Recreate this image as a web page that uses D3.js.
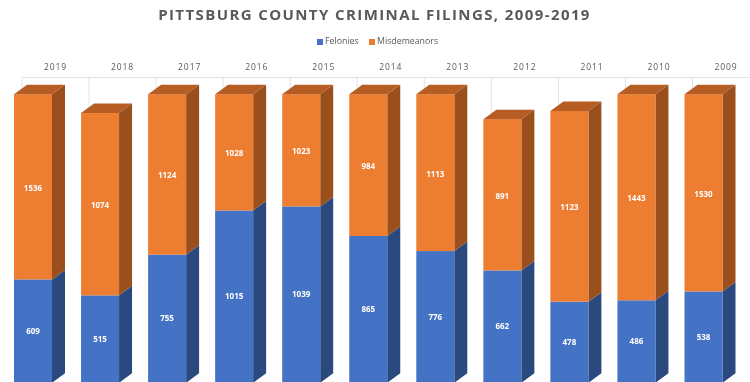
<!DOCTYPE html>
<html><head><meta charset="utf-8">
<script src="https://cdn.jsdelivr.net/npm/d3@7"></script>
<style>html,body{margin:0;padding:0;background:#fff}svg{display:block;filter:blur(0.4px)}text{font-family:"Open Sans","Liberation Sans",sans-serif}</style>
</head><body><svg id="c" width="750" height="382"></svg>
<script>
const years=["2019","2018","2017","2016","2015","2014","2013","2012","2011","2010","2009"];
const felonies=[609,515,755,1015,1039,865,776,662,478,486,538];
const misdemeanors=[1536,1074,1124,1028,1023,984,1113,891,1123,1443,1530];
const seriesNames=["Felonies","Misdemeanors"];
const axisMax=1700;

const W=750,H=382;
const svg=d3.select("#c");
const gridTop=77.5,dx=13,dy=9.5,barW=38,barOff=-8;
const x=d3.scaleBand().domain(years).range([22,22+67.05*11]);
const y=d3.scaleLinear().domain([0,axisMax]).range([382.8,94.2]);
const cols={Felonies:{front:"#4472C4",side:"#2A4A7F",top:"#365C9E"},Misdemeanors:{front:"#ED7D31",side:"#9A4F1C",top:"#B55D22"}};

svg.append("text").attr("x",374.5).attr("y",19.5).attr("text-anchor","middle")
  .attr("fill","#595959").attr("font-size",15).attr("font-weight",700).attr("letter-spacing",1.4)
  .text("PITTSBURG COUNTY CRIMINAL FILINGS, 2009-2019");

// legend
const lx=[317,369];
seriesNames.forEach((s,i)=>{
  svg.append("rect").attr("x",lx[i]).attr("y",39).attr("width",6).attr("height",6).attr("fill",cols[s].front);
  svg.append("text").attr("x",lx[i]+8).attr("y",44).attr("fill","#595959").attr("font-size",8.8).text(s);
});

// gridlines
const grid=svg.append("g").attr("stroke","#E3E3E3").attr("stroke-width",1);
grid.append("line").attr("x1",22).attr("x2",W).attr("y1",gridTop).attr("y2",gridTop);
years.forEach(d=>grid.append("line").attr("x1",x(d)).attr("x2",x(d)).attr("y1",gridTop).attr("y2",H));

// top axis labels
const ax=svg.append("g").attr("transform",`translate(0,${gridTop-7.5})`).call(d3.axisTop(x).tickSize(0).tickPadding(0));
ax.select(".domain").remove();
ax.selectAll("text").attr("fill","#595959").attr("font-size",8.5).attr("letter-spacing",.9)
  .style("font-family",'"Open Sans","Liberation Sans",sans-serif');

// bars (stacked, clipped at the axis maximum)
years.forEach((yr,i)=>{
  const left=x(yr)+barOff,right=left+barW;
  const y0=y(0),y1=y(felonies[i]),y2=y(Math.min(axisMax,felonies[i]+misdemeanors[i]));
  const g=svg.append("g");
  const seg=(yb,yt,c,top)=>{
    g.append("polygon").attr("fill",c.side).attr("points",[[right,yb],[right+dx,yb-dy],[right+dx,yt-dy],[right,yt]].join(" "));
    g.append("rect").attr("x",left).attr("y",yt).attr("width",barW).attr("height",yb-yt).attr("fill",c.front);
    if(top) g.append("polygon").attr("fill",c.top).attr("points",[[left,yt],[left+dx,yt-dy],[right+dx,yt-dy],[right,yt]].join(" "));
  };
  seg(y0,y1,cols.Felonies,false);
  seg(y1,y2,cols.Misdemeanors,true);
  const lab=(v,yy)=>g.append("text").attr("x",left+barW/2).attr("y",yy+3).attr("text-anchor","middle")
    .attr("fill","#fff").attr("font-size",8).attr("font-weight",700).text(v);
  lab(felonies[i],(Math.min(y0,H)+y1)/2);
  lab(misdemeanors[i],(y1+y2)/2+1);
});
</script></body></html>
